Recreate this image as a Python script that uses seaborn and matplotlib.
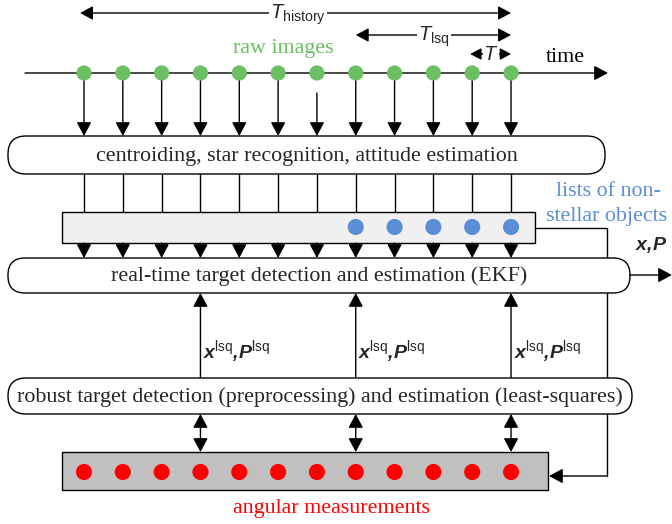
import matplotlib
matplotlib.use('Agg')
import matplotlib.pyplot as plt
import seaborn as sns
import pandas as pd
from matplotlib.patches import FancyBboxPatch, Rectangle

# ---- data ----
frames = list(range(12))
nonstellar_frames = [7, 8, 9, 10, 11]
lsq_frames = [3, 7, 11]
box_labels = ["centroiding, star recognition, attitude estimation",
              "real-time target detection and estimation (EKF)",
              "robust target detection (preprocessing) and estimation (least-squares)"]
green = "#6cbf62"
blue = "#5b8ed6"
red = "#ff0000"

sns.set_theme(style="white")
plt.rcParams['mathtext.fontset'] = 'custom'
plt.rcParams['mathtext.rm'] = 'Liberation Sans'
plt.rcParams['mathtext.it'] = 'Liberation Sans:italic'
plt.rcParams['mathtext.bf'] = 'Liberation Sans:bold'
plt.rcParams['mathtext.bfit'] = 'Liberation Sans:italic:bold'

fig = plt.figure(figsize=(6.72, 5.24), dpi=100)
ax = fig.add_axes([0, 0, 1, 1])
X0, DX = 84, 38.82
ax.set_xlim(-X0 / DX, (672 - X0) / DX)
ax.set_ylim(524, 0)
ax.axis('off')


def X(px):
    return (px - X0) / DX


AS = '-|>,head_length=0.6,head_width=0.32'
AS2 = '<|-|>,head_length=0.6,head_width=0.32'


def arrow(x1, y1, x2, y2, style=AS, lw=1.0, ms=14, color='black'):
    ax.annotate('', xy=(x2, y2), xytext=(x1, y1),
                arrowprops=dict(arrowstyle=style, color=color, lw=lw,
                                shrinkA=0, shrinkB=0, mutation_scale=ms))


serif = 'Liberation Serif'
fs = 15.8

# ---- time spans ----
first, last = frames[0], frames[-1]
arrow(X(80), 13, last, 13, style=AS2, ms=13)
ax.text(X(298), 15, r'$T_{\mathrm{history}}$', ha='center', va='center', fontsize=14.5,
        bbox=dict(facecolor='white', edgecolor='none', pad=1))
arrow(lsq_frames[1], 35, last, 35, style=AS2, ms=13)
ax.text(X(434), 37, r'$T_{\mathrm{lsq}}$', ha='center', va='center', fontsize=14.5,
        bbox=dict(facecolor='white', edgecolor='none', pad=1))
arrow(frames[-2] - 0.05, 54, last, 54, style=AS2, ms=11)
ax.text(X(491), 54, r'$T$', ha='center', va='center', fontsize=14.5,
        bbox=dict(facecolor='white', edgecolor='none', pad=0.5))

ax.text(X(283), 48, 'raw images', color=green, family=serif, fontsize=fs,
        ha='center', va='center')
ax.text(X(565), 58, 'time', color='black', family=serif, fontsize=fs,
        ha='center', va='center')

# timeline
arrow(X(25), 73, X(608), 73, ms=14)

# arrows raw -> box1
for f in frames:
    start = 93 if f == 6 else 73
    arrow(f, start, f, 136, ms=14)


def rbox(x1, y1, x2, y2, text, r=18):
    p = FancyBboxPatch((X(x1), y1), X(x2) - X(x1), y2 - y1,
                       boxstyle=f"round,pad=0,rounding_size={r/DX}",
                       facecolor='white', edgecolor='black', lw=1.0,
                       mutation_aspect=DX, zorder=3)
    ax.add_patch(p)
    ax.text((X(x1) + X(x2)) / 2, (y1 + y2) / 2 + 1, text, family=serif, fontsize=fs,
            ha='center', va='center', zorder=4)


rbox(8, 136, 605, 174, box_labels[0])

# lines box1 -> light box
for f in frames:
    ax.plot([f, f], [174, 212], color='black', lw=1.0, zorder=1)

# connector line from light box to bottom
ax.plot([X(535), X(607), X(607)], [228, 228, 476], color='black', lw=1.0, zorder=1)
arrow(X(607), 476, X(549), 476, ms=14)

# light box
ax.add_patch(Rectangle((X(62), 212), X(535) - X(62), 31, facecolor='#f0f0f0',
                       edgecolor='black', lw=1.0, zorder=2))
ax.text(X(608), 192, 'lists of non-', color=blue, family=serif, fontsize=fs,
        ha='center', va='center')
ax.text(X(607), 217, 'stellar objects', color=blue, family=serif, fontsize=fs,
        ha='center', va='center')

# arrows light box -> EKF
for f in frames:
    arrow(f, 243, f, 258, ms=14)

rbox(8, 258, 630, 293, box_labels[1], r=17)
arrow(X(630), 275, X(672), 275, ms=14)
ax.text(X(651), 245, r'$\mathbfit{x}{\mathbfit{,}}\mathbfit{P}$', ha='center', va='center',
        fontsize=14)

# up arrows robust -> EKF
for f in lsq_frames:
    arrow(f, 378, f, 293, ms=14)
    ax.text(f + 0.07, 352,
            r'$\mathbfit{x}^{\mathrm{lsq}}{\mathbfit{,}}\mathbfit{P}^{\mathrm{lsq}}$',
            ha='left', va='center', fontsize=14)

rbox(8, 378, 632, 414, box_labels[2])

# double arrows robust <-> measurements
for f in lsq_frames:
    arrow(f, 414, f, 452, style=AS2, ms=14)

ax.add_patch(Rectangle((X(62), 452), X(548) - X(62), 38, facecolor='#c0c0c0',
                       edgecolor='black', lw=1.0, zorder=2))
ax.text(X(331), 508, 'angular measurements', color=red, family=serif, fontsize=fs,
        ha='center', va='center')

# ---- dots (data) ----
raw = pd.DataFrame({'frame': frames, 'y': [73] * len(frames)})
ns = pd.DataFrame({'frame': nonstellar_frames, 'y': [227] * len(nonstellar_frames)})
meas = pd.DataFrame({'frame': frames, 'y': [472] * len(frames)})
sns.scatterplot(data=raw, x='frame', y='y', ax=ax, color=green, s=120, marker='o',
                edgecolor='none', zorder=5, legend=False)
sns.scatterplot(data=ns, x='frame', y='y', ax=ax, color=blue, s=135, marker='o',
                edgecolor='none', zorder=5, legend=False)
sns.scatterplot(data=meas, x='frame', y='y', ax=ax, color=red, s=135, marker='o',
                edgecolor='none', zorder=5, legend=False)
ax.set_xlim(-X0 / DX, (672 - X0) / DX)
ax.set_ylim(524, 0)
ax.axis('off')

fig.savefig('out.png', dpi=100)
